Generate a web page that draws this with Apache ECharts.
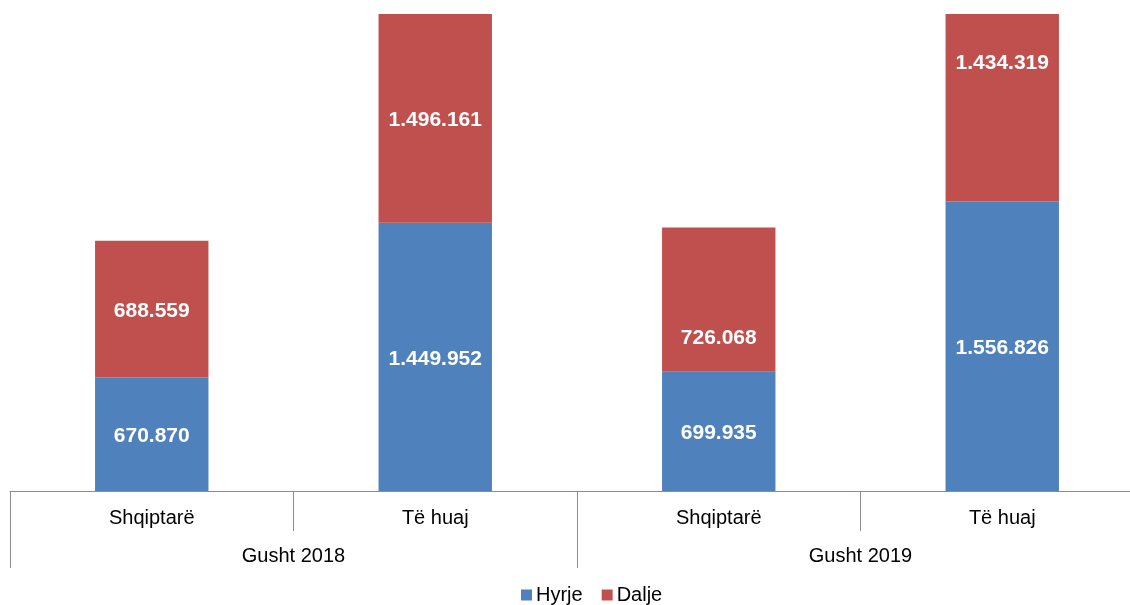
<!DOCTYPE html>
<html>
<head>
<meta charset="utf-8">
<script src="https://cdn.jsdelivr.net/npm/echarts@6/dist/echarts.min.js"></script>
<style>
  html, body { margin: 0; padding: 0; background: #fff; }
  #chart { width: 1130px; height: 605px; }
</style>
</head>
<body>
<div id="chart"></div>
<script>
var categories = ["Shqiptarë", "Të huaj", "Shqiptarë", "Të huaj"];
var periods = ["Gusht 2018", "Gusht 2019"];
var hyrje = [670870, 1449952, 699935, 1556826];
var dalje = [688559, 1496161, 726068, 1434319];
// disa etiketa jane zhvendosur me dore ne origjinal
var daljeLabelShift = [0, 0, 37, -47];

// numrat me pike si ndares mijeshesh
function fmt(v) {
  return String(v).replace(/\B(?=(\d{3})+(?!\d))/g, ".");
}

var daljeData = dalje.map(function (v, i) {
  return { value: v, label: { offset: [0, 2 + daljeLabelShift[i]] } };
});

var myChart = echarts.init(document.getElementById("chart"));
var option = {
  animation: false,
  textStyle: { fontFamily: "Liberation Sans, Arial, sans-serif" },
  legend: {
    data: ["Hyrje", "Dalje"],
    top: 580,
    left: 516,
    icon: "rect",
    itemWidth: 11,
    itemHeight: 11,
    itemGap: 19,
    textStyle: { fontSize: 20, color: "#000", padding: [0, 0, 0, -1] },
  },
  grid: { left: 10, width: 1134, top: 14, height: 477, containLabel: false, outerBoundsMode: "none" },
  xAxis: [
    {
      type: "category",
      data: categories,
      position: "bottom",
      axisLine: { show: true, lineStyle: { color: "#8c8c8c", width: 1 } },
      axisTick: { show: true, interval: 0, alignWithLabel: false, length: 40, lineStyle: { color: "#8c8c8c", width: 1 } },
      axisLabel: { interval: 0, margin: 17, fontSize: 20, color: "#000" },
    },
    {
      type: "category",
      data: periods,
      position: "bottom",
      axisLine: { show: false },
      axisTick: { show: true, interval: 0, alignWithLabel: false, length: 77, lineStyle: { color: "#8c8c8c", width: 1 } },
      axisLabel: { interval: 0, margin: 55, fontSize: 20, color: "#000" },
    },
  ],
  yAxis: {
    type: "value",
    min: 100000,
    max: 2500000,
    show: false,
    splitLine: { show: false },
  },
  series: [
    {
      name: "Hyrje",
      type: "bar",
      stack: "total",
      barWidth: "40%",
      data: hyrje,
      itemStyle: { color: "#4F81BD" },
      label: {
        show: true,
        position: "inside",
        offset: [0, 2],
        color: "#fff",
        fontWeight: "bold",
        fontSize: 21,
        formatter: function (p) { return fmt(p.value); },
      },
    },
    {
      name: "Dalje",
      type: "bar",
      stack: "total",
      barWidth: "40%",
      data: daljeData,
      itemStyle: { color: "#C0504D" },
      label: {
        show: true,
        position: "inside",
        color: "#fff",
        fontWeight: "bold",
        fontSize: 21,
        formatter: function (p) { return fmt(p.value); },
      },
    },
  ],
};
myChart.setOption(option);
</script>
</body>
</html>
